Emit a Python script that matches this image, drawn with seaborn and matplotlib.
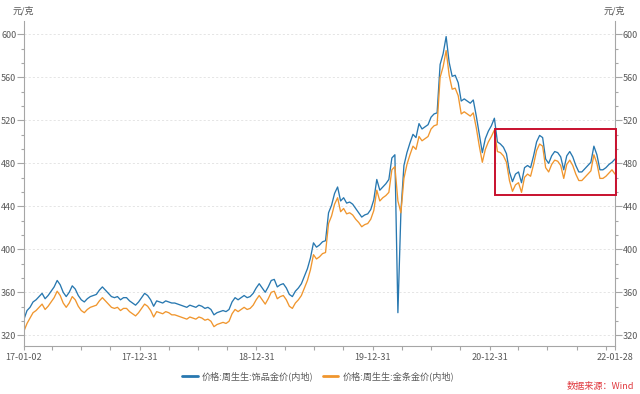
import matplotlib
matplotlib.use('Agg')
import matplotlib.pyplot as plt
import matplotlib.dates as mdates
from matplotlib.ticker import AutoMinorLocator
from matplotlib.patches import Rectangle
import seaborn as sns
import pandas as pd

# ---------------- data ----------------
start_date = '2017-01-02'
end_date = '2022-01-28'
series_names = ['价格:周生生:饰品金价(内地)', '价格:周生生:金条金价(内地)']

jewelry = [335, 343, 346, 351, 353, 356, 359, 354, 357, 361, 365, 371, 367, 360, 356, 360, 366, 363, 357, 353,
           351, 354, 356, 357, 358, 362, 365, 362, 359, 356, 355, 356, 353, 355, 355, 352, 350, 348, 351, 355,
           359, 357, 353, 347, 352, 351, 350, 352, 351, 350, 350, 349, 348, 347, 346, 348, 347, 346, 348, 347,
           345, 346, 344, 339, 341, 342, 343, 342, 344, 351, 355, 353, 355, 357, 355, 356, 359, 364, 368, 364,
           360, 365, 371, 372, 365, 367, 368, 364, 358, 356, 361, 364, 368, 375, 382, 392, 406, 402, 404, 407,
           408, 434, 441, 452, 458, 445, 448, 443, 444, 442, 438, 434, 430, 432, 433, 437, 446, 465, 455, 458,
           461, 465, 485, 488, 341, 435, 478, 490, 499, 507, 504, 517, 512, 514, 516, 523, 526, 527, 572, 582,
           598, 574, 561, 562, 555, 538, 540, 538, 536, 539, 524, 507, 490, 503, 510, 515, 522, 500, 498, 495,
           489, 472, 463, 470, 472, 462, 476, 478, 476, 487, 500, 506, 504, 484, 480, 487, 491, 490, 486, 474,
           487, 491, 486, 478, 472, 472, 475, 478, 481, 496, 488, 474, 474, 476, 479, 481, 484]

gold_bar = [324, 331, 336, 341, 343, 346, 349, 344, 347, 351, 355, 361, 357, 350, 346, 350, 356, 353, 347, 343,
            341, 344, 346, 347, 348, 352, 355, 352, 349, 346, 345, 346, 343, 345, 345, 342, 340, 338, 341, 345,
            349, 347, 343, 337, 342, 341, 340, 342, 341, 339, 339, 338, 337, 336, 335, 337, 336, 335, 337, 336,
            334, 335, 333, 328, 330, 331, 332, 331, 333, 340, 344, 342, 344, 346, 344, 345, 348, 353, 357, 353,
            349, 354, 360, 361, 354, 356, 357, 353, 347, 345, 350, 353, 357, 364, 371, 381, 395, 391, 393, 396,
            397, 424, 431, 442, 448, 435, 438, 433, 434, 432, 428, 425, 421, 423, 424, 428, 436, 455, 445, 448,
            450, 453, 474, 477, 445, 434, 466, 479, 488, 496, 493, 505, 501, 503, 505, 512, 515, 516, 560, 570,
            585, 562, 549, 550, 543, 526, 528, 526, 524, 527, 513, 496, 481, 493, 500, 505, 511, 491, 490, 487,
            481, 464, 454, 460, 462, 453, 467, 470, 468, 479, 492, 498, 496, 476, 472, 479, 483, 482, 478, 466,
            479, 483, 478, 470, 464, 464, 467, 470, 473, 488, 480, 466, 466, 468, 471, 474, 470]

x_major_ticks = ['2017-01-02', '2017-12-31', '2018-12-31', '2019-12-31', '2020-12-31', '2022-01-28']
x_minor_ticks = ['2017-03-31', '2017-06-30', '2017-09-30', '2018-03-31', '2018-06-30', '2018-09-30',
                 '2019-03-31', '2019-06-30', '2019-09-30', '2020-03-31', '2020-06-30', '2020-09-30',
                 '2021-03-31', '2021-06-30', '2021-09-30', '2021-12-31']
y_ticks = [320, 360, 400, 440, 480, 520, 560, 600]

# highlight box (annotation)
box_start, box_end = '2021-01-18', '2022-01-31'
box_low, box_high = 451, 512

# ---------------- build frame ----------------
dates = pd.date_range(start_date, end_date, periods=len(jewelry))
df = pd.DataFrame({
    'date': list(dates) + list(dates),
    'price': jewelry + gold_bar,
    'series': [series_names[0]] * len(jewelry) + [series_names[1]] * len(gold_bar),
})

BLUE = '#2878B0'
ORANGE = '#F0962E'
GRAY_TXT = '#595959'
SPINE = '#A6A6A6'

sns.set_theme(style='white')
plt.rcParams['font.family'] = ['Noto Sans CJK SC', 'DejaVu Sans']

fig = plt.figure(figsize=(6.4, 3.94), dpi=100)
ax = fig.add_axes([24 / 640, 1 - 346 / 394, (615 - 24) / 640, (346 - 21) / 394])

sns.lineplot(data=df, x='date', y='price', hue='series', hue_order=series_names,
             palette=[BLUE, ORANGE], linewidth=0.95, ax=ax, legend=False)

ax.set_xlim(dates[0], dates[-1])
ax.set_ylim(310, 612.5)
ax.set_xlabel('')
ax.set_ylabel('')

# grid
for v in y_ticks:
    ax.axhline(v, color='#E0E0E0', lw=0.6, ls=(0, (2.5, 2.5)), zorder=0)

# spines
for s in ['left', 'right', 'bottom']:
    ax.spines[s].set_visible(True)
    ax.spines[s].set_color(SPINE)
    ax.spines[s].set_linewidth(0.8)
ax.spines['top'].set_visible(False)

# y ticks on both sides
ax.set_yticks(y_ticks)
ax.yaxis.set_minor_locator(AutoMinorLocator(3))
ax.tick_params(axis='y', which='both', left=True, right=True, labelleft=True, labelright=True,
               direction='out', color=SPINE, labelcolor=GRAY_TXT, labelsize=6.5, width=0.8)
ax.tick_params(axis='y', which='major', length=5, pad=0.5)
ax.tick_params(axis='y', which='minor', length=2.5)

# x ticks
ax.set_xticks(pd.to_datetime(x_major_ticks))
ax.set_xticklabels([pd.Timestamp(d).strftime('%y-%m-%d') for d in x_major_ticks])
ax.set_xticks(pd.to_datetime(x_minor_ticks), minor=True)
ax.tick_params(axis='x', which='both', bottom=True, direction='out', length=3, width=0.8,
               color=SPINE, labelcolor=GRAY_TXT, labelsize=6.5, pad=2)

# red highlight box
x0 = mdates.date2num(pd.Timestamp(box_start))
x1 = mdates.date2num(pd.Timestamp(box_end))
rect = Rectangle((x0, box_low), x1 - x0, box_high - box_low, fill=False,
                 edgecolor='#C8102E', linewidth=1.4, clip_on=False, zorder=5)
ax.add_patch(rect)

# unit labels
fig.text(23 / 640, 1 - 11 / 394, '元/克', ha='center', va='center', fontsize=6.5, color=GRAY_TXT)
fig.text(614 / 640, 1 - 11 / 394, '元/克', ha='center', va='center', fontsize=6.5, color=GRAY_TXT)

# legend
handles = [plt.Line2D([], [], color=BLUE, lw=2), plt.Line2D([], [], color=ORANGE, lw=2)]
fig.legend(handles, series_names, loc='center', bbox_to_anchor=(318 / 640, 1 - 376 / 394), ncol=2,
           frameon=False, fontsize=6.6, handlelength=1.7, handletextpad=0.45, columnspacing=1.0,
           labelcolor=GRAY_TXT)

# source
fig.text(634 / 640, 1 - 387 / 394, '数据来源：Wind', ha='right', va='center', fontsize=6.6, color='#E0393E')

fig.savefig('out.png', dpi=100)
